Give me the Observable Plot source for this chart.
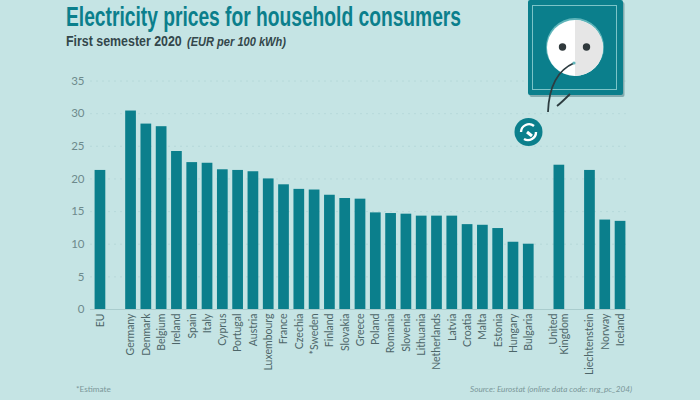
<!DOCTYPE html>
<html>
<head>
<meta charset="utf-8">
<script src="https://cdn.jsdelivr.net/npm/d3@7"></script>
<script src="https://cdn.jsdelivr.net/npm/@observablehq/plot@0.6"></script>
<style>
html,body{margin:0;padding:0;background:#c5e4e4;width:700px;height:400px;overflow:hidden}
#wrap{position:relative;width:700px;height:400px;font-family:"Lato",sans-serif}
#head{height:62px;position:relative}
#title{position:absolute;left:66px;top:1px;font:bold 28px "Liberation Sans",sans-serif;color:#0b7f8c;white-space:nowrap;transform-origin:0 0}
#sub{position:absolute;left:66px;top:33px;font:bold 14px "Liberation Sans",sans-serif;color:#33474b;white-space:nowrap;transform-origin:0 0}
#sub i{font-size:12.5px;margin-left:2px}
#icon{position:absolute;left:0;top:0;pointer-events:none}
#foot{position:absolute;left:0;top:384px;width:700px;font-size:8.2px;color:#7b9799}
#foot .l{position:absolute;left:76px}
#foot .r{position:absolute;left:470px;font-style:italic}
</style>
</head>
<body>
<div id="wrap">
  <div id="head">
    <div id="title">Electricity prices for household consumers</div>
    <div id="sub">First semester 2020 <i>(EUR per 100 kWh)</i></div>
  </div>
  <div id="chart"></div>
  <div id="foot"><span class="l">*Estimate</span><span class="r">Source: Eurostat (online data code: nrg_pc_204)</span></div>
  <svg id="icon" width="700" height="400" viewBox="0 0 700 400" aria-hidden="true">
    <rect x="529.500" y="2" width="95" height="95" rx="2" fill="#4f7d84" opacity=".55"/>
    <rect x="528" y="0" width="95" height="95" rx="2" fill="#0b7f8c"/>
    <rect x="532.500" y="5.500" width="84" height="84" fill="none" stroke="#7cc4c8" stroke-width="1"/>
    <circle cx="575" cy="47" r="29" fill="#5fb5ba"/>
    <circle cx="575" cy="48" r="28" fill="#ffffff"/>
    <path d="M575 20a28 28 0 0 1 0 56z" fill="#e6e6e6"/>
    <circle cx="562.500" cy="47" r="3.700" fill="#30393c"/>
    <circle cx="586.500" cy="47" r="3.700" fill="#30393c"/>
    <path d="M574 63C558 70 549 85 548 112" fill="none" stroke="#2d3c40" stroke-width="1.800"/>
    <path d="M570 94C564 100 561 103 557 106" fill="none" stroke="#2d3c40" stroke-width="1.800"/>
    <circle cx="574" cy="63" r="1.600" fill="#5fb5ba"/>
    <circle cx="528.500" cy="132" r="14" fill="#0b7f8c"/>
    <path d="M521 132a8 8 0 0 1 13-6M536 132a8 8 0 0 1-12 7" fill="none" stroke="#ffffff" stroke-width="2.400"/>
    <path d="M527 132l5 4" stroke="#ffffff" stroke-width="3"/>
  </svg>
</div>
<script>
const countries = ["EU","gap1","Germany","Denmark","Belgium","Ireland","Spain","Italy","Cyprus","Portugal","Austria","Luxembourg","France","Czechia","*Sweden","Finland","Slovakia","Greece","Poland","Romania","Slovenia","Lithuania","Netherlands","Latvia","Croatia","Malta","Estonia","Hungary","Bulgaria","gap2","United\nKingdom","gap3","Liechtenstein","Norway","Iceland"];
const prices = [21.3,null,30.4,28.4,28.0,24.2,22.5,22.4,21.4,21.3,21.1,20.0,19.1,18.4,18.3,17.5,17.0,16.9,14.8,14.7,14.6,14.3,14.3,14.3,13.0,12.9,12.4,10.3,10.0,null,22.1,null,21.3,13.7,13.5];
const yTicks = [0,5,10,15,20,25,30,35];
const rows = countries.map((c,i)=>({country:c,price:prices[i]})).filter(d=>d.price!=null);
const labels = rows.map(d=>d.country);

const plot = Plot.plot({
  width:700,height:318,
  marginLeft:90,marginRight:70,marginTop:18.500,marginBottom:71,
  style:{background:"transparent",fontFamily:"Lato,sans-serif",overflow:"visible"},
  x:{type:"band",domain:countries,padding:0.3,round:false},
  y:{domain:[0,35]},
  marks:[
    Plot.ruleY(yTicks,{stroke:"#aed2d3",strokeOpacity:0.6,strokeDasharray:"2,4"}),
    Plot.ruleY([0],{stroke:"#a9cccd"}),
    Plot.barY(rows,{x:"country",y:"price",fill:"#0b7f8c"}),
    Plot.axisY({ticks:yTicks,tickSize:0,tickPadding:6,fontSize:11.500,color:"#6d8a8c",label:null}),
    Plot.axisX({ticks:labels,tickSize:0,tickPadding:4,tickRotate:-90,fontSize:10.500,color:"#4d6669",label:null})
  ]
});
document.getElementById("chart").appendChild(plot);
function fit(id,w){const el=document.getElementById(id);el.style.transform="scaleX("+(w/el.getBoundingClientRect().width)+")";}
fit("title",395);
fit("sub",220);
</script>
</body>
</html>
